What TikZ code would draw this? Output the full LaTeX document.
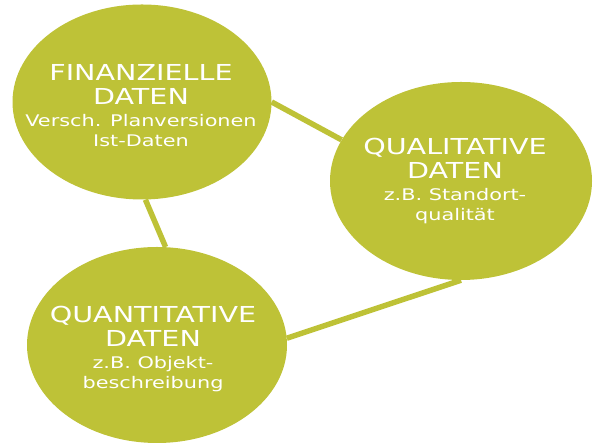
\documentclass[tikz,border=0pt]{standalone}
\usepackage{fontspec}
\setmainfont{DejaVu Sans}[FakeStretch=1.3]
\usetikzlibrary{shapes.geometric}
\definecolor{olive}{RGB}{190,194,55}
\newcommand{\subfont}{\fontsize{16}{19}\selectfont}

\begin{document}
\begin{tikzpicture}[x=1pt,y=1pt,
  blob/.style={ellipse, fill=olive, inner sep=0},
  caption/.style={text=white, align=center, inner sep=0, font=\fontsize{22}{24}\selectfont},
  link/.style={draw=olive, line width=5.5pt}]
  \useasboundingbox (0,0) rectangle (596,443);

  % the three data blobs
  \node [blob, minimum width=259pt, minimum height=195pt] (fin) at (142,341) {};
  \node [blob, minimum width=262pt, minimum height=198pt] (qual) at (461,262) {};
  \node [blob, minimum width=260pt, minimum height=196pt] (quant) at (157,98) {};

  \node [caption] (finT) at (141,337)
    {FINANZIELLE\\ DATEN\\[-2pt] {\subfont Versch. Planversionen}\\[-4pt] {\subfont Ist-Daten}};
  \node [caption] (qualT) at (455,262)
    {QUALITATIVE\\ DATEN\\[-2pt] {\subfont z.B. Standort-}\\[-4pt] {\subfont qualität}};
  \node [caption] (quantT) at (153,94)
    {QUANTITATIVE\\ DATEN\\[-2pt] {\subfont z.B. Objekt-}\\[-4pt] {\subfont beschreibung}};

  \draw [link] (fin.east) -- (qual.161);
  \draw [link] (fin.-88) -- (quant.85);
  \draw [link] (quant.3) -- (qual.south);
\end{tikzpicture}
\end{document}
